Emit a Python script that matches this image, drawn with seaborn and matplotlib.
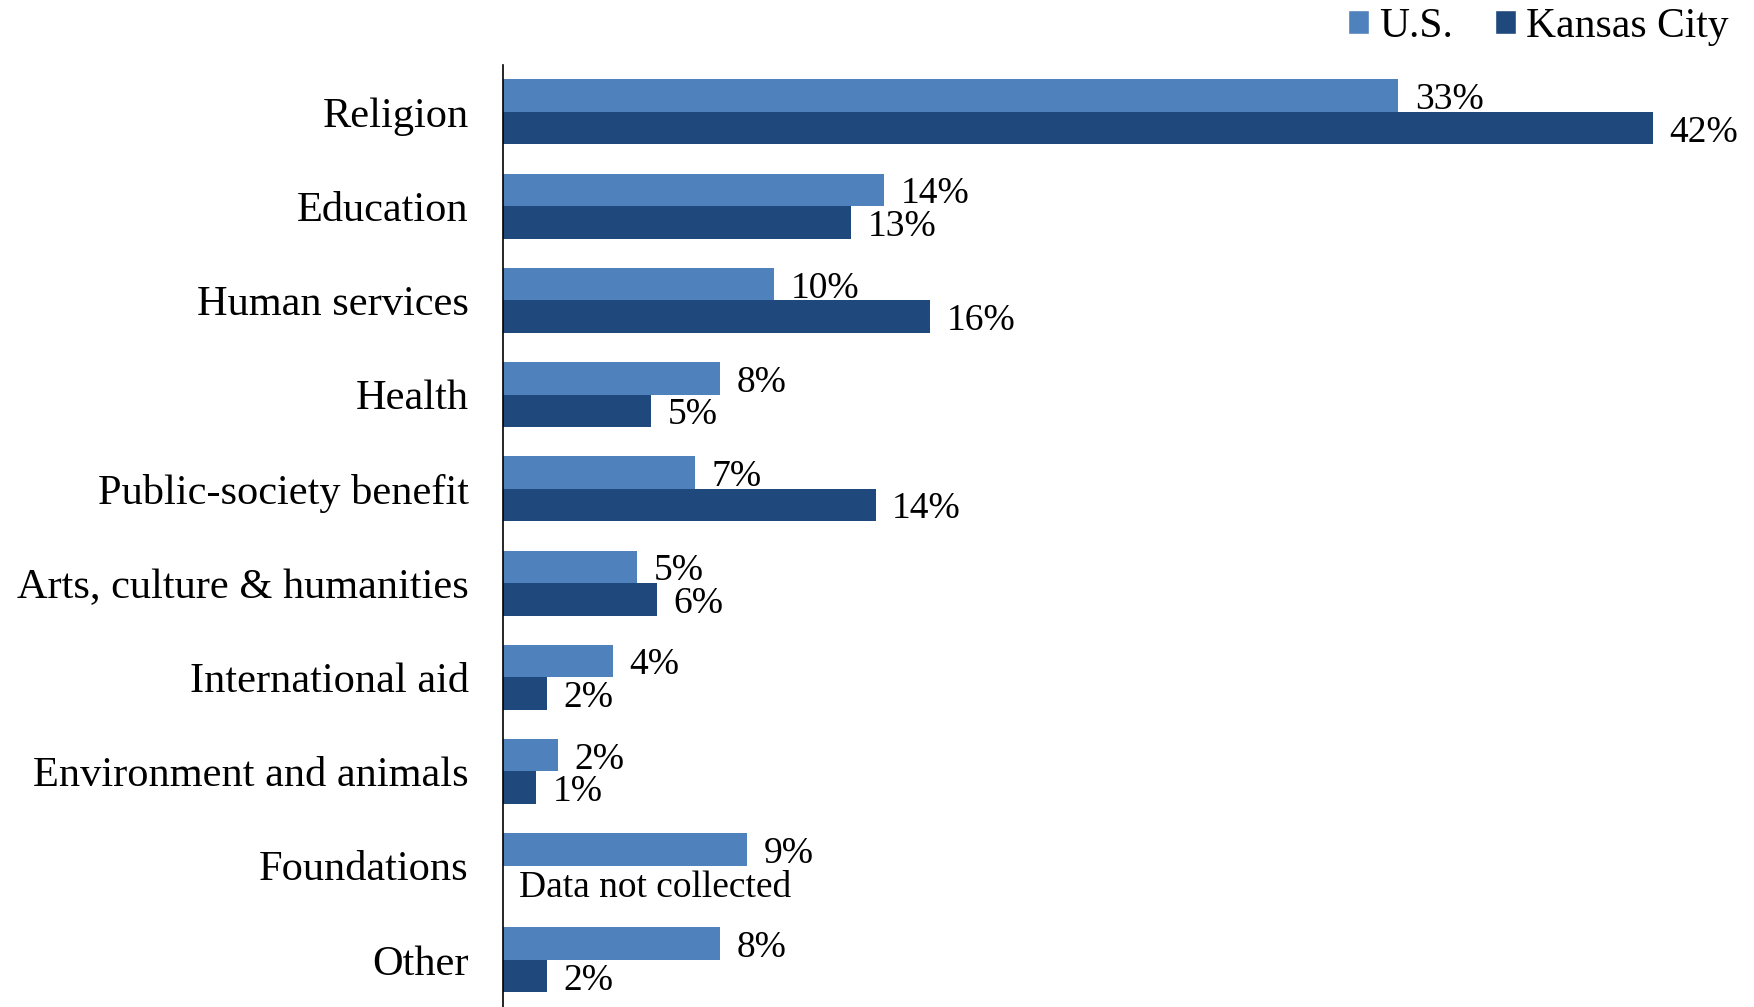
import pandas as pd
import matplotlib
matplotlib.use("Agg")
import matplotlib.pyplot as plt
from matplotlib.patches import Patch
import seaborn as sns

# Categories, top to bottom
categories = ["Religion", "Education", "Human services", "Health",
              "Public-society benefit", "Arts, culture & humanities",
              "International aid", "Environment and animals",
              "Foundations", "Other"]

# Share of giving (%)
us_values = [32.7, 13.9, 9.9, 7.9, 7.0, 4.9, 4.0, 2.0, 8.9, 7.9]
kc_values = [42.0, 12.7, 15.6, 5.4, 13.6, 5.6, 1.6, 1.2, None, 1.6]

series = ["U.S.", "Kansas City"]
colors = ["#4F81BD", "#1F497D"]
missing_note = "Data not collected"

rows = []
for cat, us, kc in zip(categories, us_values, kc_values):
    rows.append({"category": cat, "series": "U.S.", "value": us})
    if kc is not None:
        rows.append({"category": cat, "series": "Kansas City", "value": kc})
df = pd.DataFrame(rows)

sns.set_style("white")
plt.rcParams["font.family"] = ["Liberation Serif", "DejaVu Serif"]
plt.rcParams["text.color"] = "black"
plt.rcParams["ytick.color"] = "black"

fig = plt.figure(figsize=(17.54, 10.07), dpi=100)
ax = fig.add_axes([0.287, 0.0, 0.713, 0.9356])

bar_width = 0.69
sns.barplot(data=df, y="category", x="value", hue="series",
            order=categories, hue_order=series, palette=colors,
            orient="h", width=bar_width, saturation=1, linewidth=0,
            ax=ax, legend=False)

# value labels, nudged a little below bar centre like the original
for cont in ax.containers:
    labels = ax.bar_label(cont, fmt=lambda v: f"{v:.0f}%", padding=12,
                          fontsize=27, color="black")
    for t in labels:
        t.xyann = (t.xyann[0], t.xyann[1] - 3)

# Note for Foundations where Kansas City data is missing
idx = categories.index("Foundations")
ax.annotate(missing_note, xy=(0, idx + bar_width / 4), xytext=(11, -4),
            textcoords="offset points", va="center", ha="left", fontsize=27,
            color="black")

ax.set_xlim(0, 45.7)
ax.set_xlabel("")
ax.set_ylabel("")
ax.set_xticks([])
ax.tick_params(axis="y", length=0, pad=25, labelsize=30.5, labelcolor="black")
for side in ["top", "right", "bottom"]:
    ax.spines[side].set_visible(False)
ax.spines["left"].set_color("black")
ax.spines["left"].set_linewidth(1.2)

handles = [Patch(facecolor=c, label=s) for c, s in zip(colors, series)]
fig.legend(handles=handles, loc="upper right", bbox_to_anchor=(0.988, 0.997),
           ncol=2, frameon=False, fontsize=30, handlelength=0.5,
           handleheight=0.5, handletextpad=0.25, columnspacing=1.0,
           borderpad=0.1, borderaxespad=0)

fig.savefig("out.png", dpi=100)
